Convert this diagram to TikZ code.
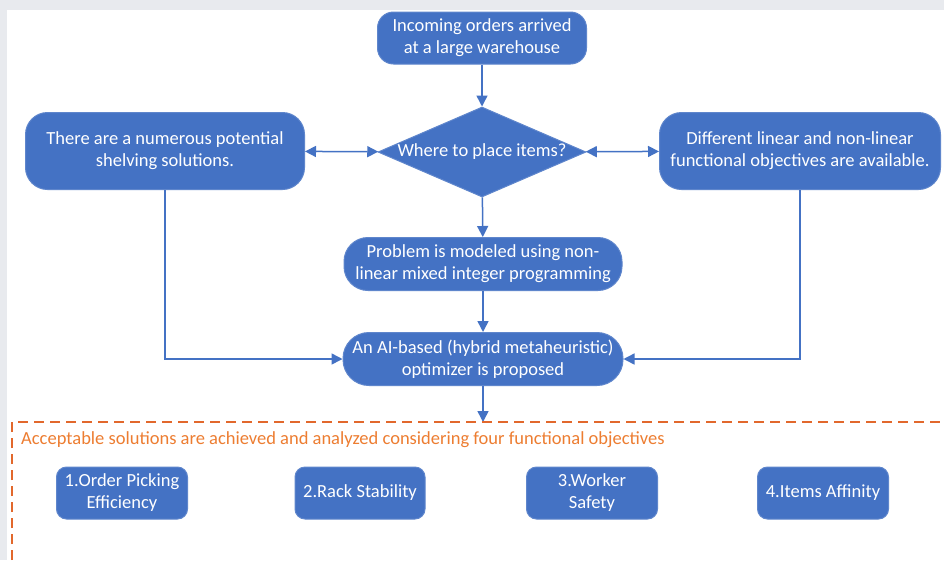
\documentclass[tikz,border=0pt]{standalone}
\usepackage{fontspec}
\setmainfont{Carlito}
\usetikzlibrary{shapes.geometric,arrows.meta}

\definecolor{officeblue}{HTML}{4472C4}
\definecolor{edgeblue}{HTML}{5F86CC}
\definecolor{accentorange}{HTML}{ED7D31}
\definecolor{dashorange}{HTML}{E2682C}
\definecolor{pagegray}{HTML}{E8EAEE}

\begin{document}
\begin{tikzpicture}[x=1pt,y=-1pt,
    font=\fontsize{18.5}{22}\selectfont,
    stepbox/.style={draw=edgeblue, fill=officeblue, text=white, line width=1pt, align=center, inner sep=0pt},
    flow/.style={draw=officeblue, line width=1.5pt, -{Triangle[length=11pt,width=11pt]}},
    twoway/.style={draw=officeblue, line width=1.5pt, {Triangle[length=11pt,width=11pt]}-{Triangle[length=11pt,width=11pt]}}]
			      % Page and background
			      \useasboundingbox (0,0) rectangle (944,560);
			      \fill[pagegray] (0,0) rectangle (944,560);
			      \fill[white] (7,10) rectangle (944,560);

			      % Main flow
			      \node[stepbox, rounded corners=16pt, minimum width=209pt, minimum height=52pt] (orders) at (482,38) {Incoming orders arrived\\at a large warehouse};
			      \node[stepbox, diamond, aspect=2.3, minimum width=208pt, minimum height=90pt] (place) at (482,152) {Where to place items?};
			      \node[stepbox, rounded corners=22pt, minimum width=279pt, minimum height=77pt] (shelving) at (165,151) {There are a numerous potential\\shelving solutions.};
			      \node[stepbox, rounded corners=22pt, minimum width=281pt, minimum height=77pt] (objectives) at (800,151) {Different linear and non-linear\\functional objectives are available.};
			      \node[stepbox, rounded corners=24pt, minimum width=278pt, minimum height=53pt] (model) at (483,264) {Problem is modeled using non-\\linear mixed integer programming};
			      \node[stepbox, rounded corners=26pt, minimum width=280pt, minimum height=53pt] (optimizer) at (483,359) {An AI-based (hybrid metaheuristic)\\optimizer is proposed};

			      % Connectors
			      \draw[flow] (orders) -- (place);
			      \draw[twoway] (shelving) -- (place);
			      \draw[twoway] (place) -- (objectives);
			      \draw[flow] (place) -- (model);
			      \draw[flow] (model) -- (optimizer);
			      \draw[flow] (shelving.south) |- (optimizer.west);
			      \draw[flow] (objectives.south) |- (optimizer.east);
			      \coordinate (results) at (483,422);
			      \draw[flow] (optimizer) -- (results);

			      % Results region
			      \draw[dashorange, line width=1.8pt, dash pattern=on 10pt off 6pt] (12,560) -- (12,422) -- (944,422);
			      \node[text=accentorange, anchor=west, inner sep=0pt] (resultstitle) at (21,440) {Acceptable solutions are achieved and analyzed considering four functional objectives};

			      % Four objectives
			      \node[stepbox, rounded corners=10pt, minimum width=131pt, minimum height=52pt] (picking) at (122,493) {1.Order Picking\\Efficiency};
			      \node[stepbox, rounded corners=10pt, minimum width=130pt, minimum height=52pt] (stability) at (360,493) {2.Rack Stability};
			      \node[stepbox, rounded corners=10pt, minimum width=131pt, minimum height=52pt] (safety) at (592,493) {3.Worker\\Safety};
			      \node[stepbox, rounded corners=10pt, minimum width=131pt, minimum height=52pt] (affinity) at (823,493) {4.Items Affinity};
		      \end{tikzpicture}
\end{document}
